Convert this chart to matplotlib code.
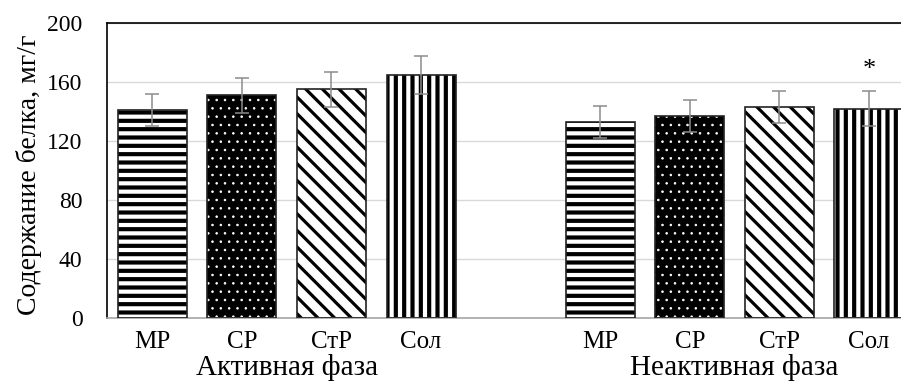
import matplotlib
matplotlib.use("Agg")
import matplotlib.pyplot as plt
import numpy as np

# data
groups = ["Активная фаза", "Неактивная фаза"]
samples = ["МР", "СР", "СтР", "Сол"]
active = [141, 151, 155, 165]
active_err = [11, 12, 12, 13]
inactive = [133, 137, 143, 142]
inactive_err = [11, 11, 11, 12]
star_marks = [False, False, False, False, False, False, False, True]

plt.rcParams["font.family"] = ["Liberation Serif", "DejaVu Serif"]

values = active + inactive
errs = active_err + inactive_err
labels = samples + samples
pos = np.array([0, 1, 2, 3, 5, 6, 7, 8])

fig = plt.figure(figsize=(9.01, 3.85), dpi=100)
ax = fig.add_axes([0.1193, 0.174, 0.8948, 0.766])

# style per sample: hatch, face, hatch colour, hatch linewidth
styles = {
    "МР": ("--", "white", "black", 3.0),
    "СР": ("..", "black", "white", 0.6),
    "СтР": ("\\\\", "white", "black", 2.3),
    "Сол": ("||", "white", "black", 3.0),
}

w = 0.77
for p, v, lab in zip(pos, values, labels):
    hatch, face, hcol, hlw = styles[lab]
    with plt.rc_context({"hatch.linewidth": hlw}):
        bars = ax.bar(p, v, width=w, color=face, edgecolor=hcol, hatch=hatch,
                      linewidth=0, zorder=2)
    for b in bars:
        if hasattr(b, "set_hatch_linewidth"):
            b.set_hatch_linewidth(hlw)
    ax.bar(p, v, width=w, fill=False, edgecolor="#222222", linewidth=1.2, zorder=3)

ax.errorbar(pos, values, yerr=errs, fmt="none", ecolor="#8c8c8c",
            elinewidth=1.1, capsize=5, capthick=1.1, zorder=4)

for p, v, e, s in zip(pos, values, errs, star_marks):
    if s:
        ax.text(p, v + e + 14, "*", ha="center", va="center", fontsize=19, zorder=5)

ax.set_xlim(-0.5, 8.5)
ax.set_ylim(0, 200)
ax.set_yticks([0, 40, 80, 120, 160, 200])
ax.set_xticks(pos)
ax.set_xticklabels(labels)
ax.tick_params(axis="y", length=0, pad=18, labelsize=17)
ax.tick_params(axis="x", length=0, pad=9, labelsize=18)
ax.yaxis.grid(True, color="#d9d9d9", linewidth=1.0, zorder=0)
ax.set_axisbelow(True)

for side in ["left", "top"]:
    ax.spines[side].set_color("black")
    ax.spines[side].set_linewidth(1.2)
ax.spines["right"].set_visible(False)
ax.spines["bottom"].set_color("#a6a6a6")
ax.spines["bottom"].set_linewidth(1.2)

# group labels under the sample names
trans = matplotlib.transforms.blended_transform_factory(ax.transData, fig.transFigure)
ax.text(1.5, 1 - 375 / 385, groups[0], ha="center", va="baseline", fontsize=21, transform=trans)
ax.text(6.5, 1 - 375 / 385, groups[1], ha="center", va="baseline", fontsize=21, transform=trans)

fig.text(29 / 901, 1 - 175 / 385, "Содержание белка, мг/г", rotation=90,
         ha="center", va="center", fontsize=20)

fig.savefig("out.png", dpi=100)
